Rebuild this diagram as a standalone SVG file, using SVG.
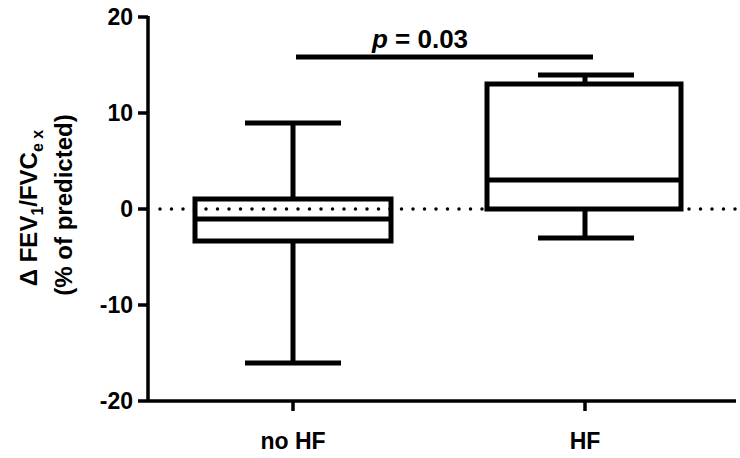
<svg xmlns="http://www.w3.org/2000/svg" width="740" height="458" viewBox="0 0 740 458">
<style>
text{font-family:"Liberation Sans",Arial,sans-serif;font-weight:bold;fill:#000}
.t{font-size:23px;text-anchor:end}
.x{font-size:23px;text-anchor:middle}
.k{stroke:#000;stroke-width:5;fill:none}
.a{stroke:#000;stroke-width:3.5;fill:none}
</style>
<rect width="740" height="458" fill="#fff"/>
<g id="axes">
<path class="a" d="M148 16V402M138 17H148M138 113H148M138 209H148M138 305H148M138 401H148M146 401H736M293 401V411M585 401V411"/>
<text class="t" x="133" y="25">20</text>
<text class="t" x="133" y="121">10</text>
<text class="t" x="133" y="217">0</text>
<text class="t" x="133" y="313">-10</text>
<text class="t" x="133" y="409">-20</text>
<text class="x" x="293" y="449">no HF</text>
<text class="x" x="585" y="449">HF</text>
<text font-size="24" text-anchor="middle" transform="translate(37,208) rotate(-90)">Δ FEV<tspan font-size="16" dy="6">1</tspan><tspan dy="-6">/FVC</tspan><tspan font-size="16" dy="6">e x</tspan></text>
<text font-size="24" text-anchor="middle" transform="translate(72,205) rotate(-90)">(% of predicted)</text>
</g>
<line x1="160" y1="209" x2="736" y2="209" stroke="#000" stroke-width="3.5" stroke-linecap="round" stroke-dasharray="0 11.5"/>
<g id="noHF">
<path class="k" d="M245 123H341M293 123V199M293 241V363M245 363H341M195 219H391"/>
<rect class="k" x="195" y="199" width="196" height="42"/>
</g>
<g id="HF">
<path class="k" d="M538 75H634M585 75V84M585 209V238M538 238H634M487 180H681"/>
<rect class="k" x="487" y="84" width="194" height="125"/>
</g>
<g id="sig">
<path class="k" d="M296 57H593"/>
<text font-size="26" text-anchor="middle" x="420" y="48"><tspan font-style="italic">p</tspan> = 0.03</text>
</g>
</svg>
